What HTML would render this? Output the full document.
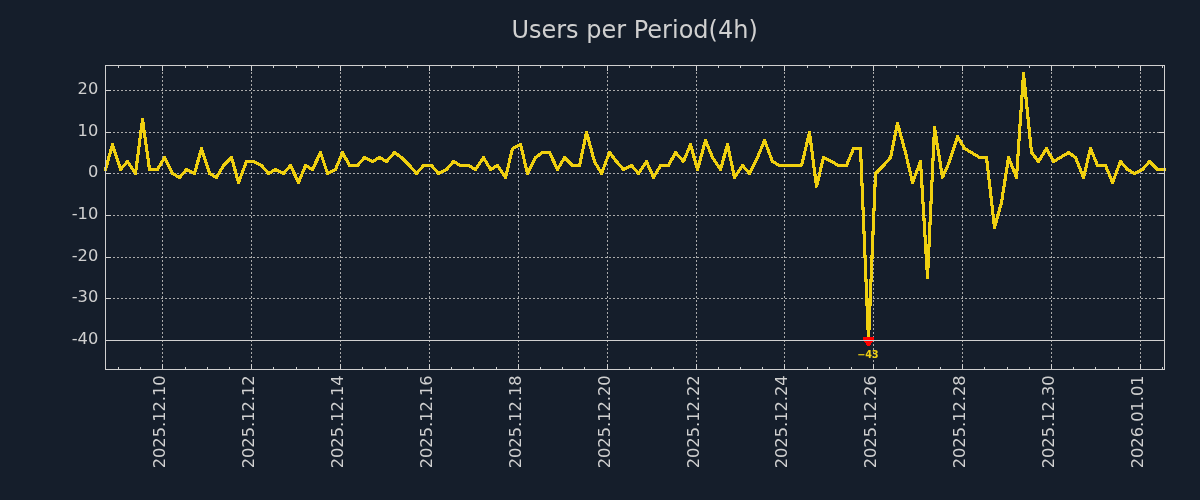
<!DOCTYPE html>
<html><head><meta charset="utf-8"><title>Users per Period(4h)</title>
<style>
html,body{margin:0;padding:0;background:#151e2b;}
body{width:1200px;height:500px;overflow:hidden;}
svg{display:block;}
text{font-family:"DejaVu Sans","Liberation Sans",sans-serif;fill:#d0d0d0;}
.tk{font-size:16.25px;}
.ttl{font-size:24px;}
.ann{font-size:9.8px;font-weight:bold;fill:#f0d010;}
</style></head><body>
<svg width="1200" height="500" viewBox="0 0 1200 500">
<defs><filter id="thr" x="0" y="0" width="1200" height="500" filterUnits="userSpaceOnUse" color-interpolation-filters="sRGB"><feComponentTransfer><feFuncA type="discrete" tableValues="0 0 0 1 1 1 1"/></feComponentTransfer></filter></defs>
<rect x="0" y="0" width="1200" height="500" fill="#151e2b"/>
<text class="ttl" x="634.6" y="37.5" text-anchor="middle">Users per Period(4h)</text>
<g stroke="#aaaaaa" stroke-width="1" stroke-dasharray="2 2" fill="none">
<line x1="162.5" y1="370" x2="162.5" y2="65"/>
<line x1="251.5" y1="370" x2="251.5" y2="65"/>
<line x1="340.5" y1="370" x2="340.5" y2="65"/>
<line x1="429.5" y1="370" x2="429.5" y2="65"/>
<line x1="518.5" y1="370" x2="518.5" y2="65"/>
<line x1="607.5" y1="370" x2="607.5" y2="65"/>
<line x1="696.5" y1="370" x2="696.5" y2="65"/>
<line x1="784.5" y1="370" x2="784.5" y2="65"/>
<line x1="873.5" y1="370" x2="873.5" y2="65"/>
<line x1="962.5" y1="370" x2="962.5" y2="65"/>
<line x1="1051.5" y1="370" x2="1051.5" y2="65"/>
<line x1="1140.5" y1="370" x2="1140.5" y2="65"/>
<line x1="105" y1="90.5" x2="1165" y2="90.5"/>
<line x1="105" y1="132.5" x2="1165" y2="132.5"/>
<line x1="105" y1="173.5" x2="1165" y2="173.5"/>
<line x1="105" y1="215.5" x2="1165" y2="215.5"/>
<line x1="105" y1="257.5" x2="1165" y2="257.5"/>
<line x1="105" y1="298.5" x2="1165" y2="298.5"/>
</g>
<polyline points="105.5,169.5 112.5,144.5 120.5,169.5 127.5,161.5 135.5,173.5 142.5,119.5 149.5,169.5 157.5,169.5 164.5,157.5 172.5,173.5 179.5,177.5 186.5,169.5 194.5,173.5 201.5,148.5 209.5,173.5 216.5,177.5 223.5,165.5 231.5,157.5 238.5,182.5 246.5,161.5 253.5,161.5 261.5,165.5 268.5,173.5 275.5,169.5 283.5,173.5 290.5,165.5 298.5,182.5 305.5,165.5 312.5,169.5 320.5,152.5 327.5,173.5 335.5,169.5 342.5,152.5 349.5,165.5 357.5,165.5 364.5,157.5 372.5,161.5 379.5,157.5 386.5,161.5 394.5,152.5 401.5,157.5 409.5,165.5 416.5,173.5 423.5,165.5 431.5,165.5 438.5,173.5 446.5,169.5 453.5,161.5 460.5,165.5 468.5,165.5 475.5,169.5 483.5,157.5 490.5,169.5 497.5,165.5 505.5,177.5 512.5,148.5 520.5,144.5 527.5,173.5 535.5,157.5 542.5,152.5 549.5,152.5 557.5,169.5 564.5,157.5 572.5,165.5 579.5,165.5 586.5,132.5 594.5,161.5 601.5,173.5 609.5,152.5 616.5,161.5 623.5,169.5 631.5,165.5 638.5,173.5 646.5,161.5 653.5,177.5 660.5,165.5 668.5,165.5 675.5,152.5 683.5,161.5 690.5,144.5 697.5,169.5 705.5,140.5 712.5,157.5 720.5,169.5 727.5,144.5 734.5,177.5 742.5,165.5 749.5,173.5 757.5,157.5 764.5,140.5 772.5,161.5 779.5,165.5 786.5,165.5 794.5,165.5 801.5,165.5 809.5,132.5 816.5,186.5 823.5,157.5 831.5,161.5 838.5,165.5 846.5,165.5 853.5,148.5 860.5,148.5 868.5,340.5 875.5,173.5 883.5,165.5 890.5,157.5 897.5,123.5 905.5,152.5 912.5,182.5 920.5,161.5 927.5,277.5 934.5,127.5 942.5,177.5 949.5,161.5 957.5,136.5 964.5,148.5 971.5,152.5 979.5,157.5 986.5,157.5 994.5,227.5 1001.5,202.5 1008.5,157.5 1016.5,177.5 1023.5,73.5 1031.5,152.5 1038.5,161.5 1046.5,148.5 1053.5,161.5 1060.5,157.5 1068.5,152.5 1075.5,157.5 1083.5,177.5 1090.5,148.5 1097.5,165.5 1105.5,165.5 1112.5,182.5 1120.5,161.5 1127.5,169.5 1134.5,173.5 1142.5,169.5 1149.5,161.5 1157.5,169.5 1164.5,169.5" fill="none" stroke="#f0d010" stroke-width="3" stroke-linejoin="round" stroke-linecap="square" filter="url(#thr)"/>
<path d="M863 337H874V341H873V342H872V343H871V345H870V346H867V345H866V343H865V342H864V341H863Z" fill="#ff0000" shape-rendering="crispEdges"/>
<line x1="105" y1="340.5" x2="1165" y2="340.5" stroke="#d0d0d0" stroke-width="1"/>
<text class="ann" x="867.70" y="357.8" text-anchor="middle" letter-spacing="-0.3">−43</text>
<g stroke="#d0d0d0" stroke-width="1" fill="none">
<line x1="162.5" y1="369" x2="162.5" y2="364"/><line x1="162.5" y1="66" x2="162.5" y2="71"/>
<line x1="251.5" y1="369" x2="251.5" y2="364"/><line x1="251.5" y1="66" x2="251.5" y2="71"/>
<line x1="340.5" y1="369" x2="340.5" y2="364"/><line x1="340.5" y1="66" x2="340.5" y2="71"/>
<line x1="429.5" y1="369" x2="429.5" y2="364"/><line x1="429.5" y1="66" x2="429.5" y2="71"/>
<line x1="518.5" y1="369" x2="518.5" y2="364"/><line x1="518.5" y1="66" x2="518.5" y2="71"/>
<line x1="607.5" y1="369" x2="607.5" y2="364"/><line x1="607.5" y1="66" x2="607.5" y2="71"/>
<line x1="696.5" y1="369" x2="696.5" y2="364"/><line x1="696.5" y1="66" x2="696.5" y2="71"/>
<line x1="784.5" y1="369" x2="784.5" y2="364"/><line x1="784.5" y1="66" x2="784.5" y2="71"/>
<line x1="873.5" y1="369" x2="873.5" y2="364"/><line x1="873.5" y1="66" x2="873.5" y2="71"/>
<line x1="962.5" y1="369" x2="962.5" y2="364"/><line x1="962.5" y1="66" x2="962.5" y2="71"/>
<line x1="1051.5" y1="369" x2="1051.5" y2="364"/><line x1="1051.5" y1="66" x2="1051.5" y2="71"/>
<line x1="1140.5" y1="369" x2="1140.5" y2="364"/><line x1="1140.5" y1="66" x2="1140.5" y2="71"/>
<line x1="118.5" y1="369" x2="118.5" y2="367"/><line x1="118.5" y1="66" x2="118.5" y2="68"/>
<line x1="140.5" y1="369" x2="140.5" y2="367"/><line x1="140.5" y1="66" x2="140.5" y2="68"/>
<line x1="185.5" y1="369" x2="185.5" y2="367"/><line x1="185.5" y1="66" x2="185.5" y2="68"/>
<line x1="207.5" y1="369" x2="207.5" y2="367"/><line x1="207.5" y1="66" x2="207.5" y2="68"/>
<line x1="229.5" y1="369" x2="229.5" y2="367"/><line x1="229.5" y1="66" x2="229.5" y2="68"/>
<line x1="273.5" y1="369" x2="273.5" y2="367"/><line x1="273.5" y1="66" x2="273.5" y2="68"/>
<line x1="296.5" y1="369" x2="296.5" y2="367"/><line x1="296.5" y1="66" x2="296.5" y2="68"/>
<line x1="318.5" y1="369" x2="318.5" y2="367"/><line x1="318.5" y1="66" x2="318.5" y2="68"/>
<line x1="362.5" y1="369" x2="362.5" y2="367"/><line x1="362.5" y1="66" x2="362.5" y2="68"/>
<line x1="385.5" y1="369" x2="385.5" y2="367"/><line x1="385.5" y1="66" x2="385.5" y2="68"/>
<line x1="407.5" y1="369" x2="407.5" y2="367"/><line x1="407.5" y1="66" x2="407.5" y2="68"/>
<line x1="451.5" y1="369" x2="451.5" y2="367"/><line x1="451.5" y1="66" x2="451.5" y2="68"/>
<line x1="473.5" y1="369" x2="473.5" y2="367"/><line x1="473.5" y1="66" x2="473.5" y2="68"/>
<line x1="496.5" y1="369" x2="496.5" y2="367"/><line x1="496.5" y1="66" x2="496.5" y2="68"/>
<line x1="540.5" y1="369" x2="540.5" y2="367"/><line x1="540.5" y1="66" x2="540.5" y2="68"/>
<line x1="562.5" y1="369" x2="562.5" y2="367"/><line x1="562.5" y1="66" x2="562.5" y2="68"/>
<line x1="584.5" y1="369" x2="584.5" y2="367"/><line x1="584.5" y1="66" x2="584.5" y2="68"/>
<line x1="629.5" y1="369" x2="629.5" y2="367"/><line x1="629.5" y1="66" x2="629.5" y2="68"/>
<line x1="651.5" y1="369" x2="651.5" y2="367"/><line x1="651.5" y1="66" x2="651.5" y2="68"/>
<line x1="673.5" y1="369" x2="673.5" y2="367"/><line x1="673.5" y1="66" x2="673.5" y2="68"/>
<line x1="718.5" y1="369" x2="718.5" y2="367"/><line x1="718.5" y1="66" x2="718.5" y2="68"/>
<line x1="740.5" y1="369" x2="740.5" y2="367"/><line x1="740.5" y1="66" x2="740.5" y2="68"/>
<line x1="762.5" y1="369" x2="762.5" y2="367"/><line x1="762.5" y1="66" x2="762.5" y2="68"/>
<line x1="807.5" y1="369" x2="807.5" y2="367"/><line x1="807.5" y1="66" x2="807.5" y2="68"/>
<line x1="829.5" y1="369" x2="829.5" y2="367"/><line x1="829.5" y1="66" x2="829.5" y2="68"/>
<line x1="851.5" y1="369" x2="851.5" y2="367"/><line x1="851.5" y1="66" x2="851.5" y2="68"/>
<line x1="896.5" y1="369" x2="896.5" y2="367"/><line x1="896.5" y1="66" x2="896.5" y2="68"/>
<line x1="918.5" y1="369" x2="918.5" y2="367"/><line x1="918.5" y1="66" x2="918.5" y2="68"/>
<line x1="940.5" y1="369" x2="940.5" y2="367"/><line x1="940.5" y1="66" x2="940.5" y2="68"/>
<line x1="984.5" y1="369" x2="984.5" y2="367"/><line x1="984.5" y1="66" x2="984.5" y2="68"/>
<line x1="1007.5" y1="369" x2="1007.5" y2="367"/><line x1="1007.5" y1="66" x2="1007.5" y2="68"/>
<line x1="1029.5" y1="369" x2="1029.5" y2="367"/><line x1="1029.5" y1="66" x2="1029.5" y2="68"/>
<line x1="1073.5" y1="369" x2="1073.5" y2="367"/><line x1="1073.5" y1="66" x2="1073.5" y2="68"/>
<line x1="1095.5" y1="369" x2="1095.5" y2="367"/><line x1="1095.5" y1="66" x2="1095.5" y2="68"/>
<line x1="1118.5" y1="369" x2="1118.5" y2="367"/><line x1="1118.5" y1="66" x2="1118.5" y2="68"/>
<line x1="1162.5" y1="369" x2="1162.5" y2="367"/><line x1="1162.5" y1="66" x2="1162.5" y2="68"/>
<line x1="106" y1="90.5" x2="111" y2="90.5"/><line x1="1164" y1="90.5" x2="1159" y2="90.5"/>
<line x1="106" y1="132.5" x2="111" y2="132.5"/><line x1="1164" y1="132.5" x2="1159" y2="132.5"/>
<line x1="106" y1="173.5" x2="111" y2="173.5"/><line x1="1164" y1="173.5" x2="1159" y2="173.5"/>
<line x1="106" y1="215.5" x2="111" y2="215.5"/><line x1="1164" y1="215.5" x2="1159" y2="215.5"/>
<line x1="106" y1="257.5" x2="111" y2="257.5"/><line x1="1164" y1="257.5" x2="1159" y2="257.5"/>
<line x1="106" y1="298.5" x2="111" y2="298.5"/><line x1="1164" y1="298.5" x2="1159" y2="298.5"/>
<line x1="106" y1="340.5" x2="111" y2="340.5"/><line x1="1164" y1="340.5" x2="1159" y2="340.5"/>
</g>
<rect x="105.5" y="65.5" width="1059.0" height="304.0" fill="none" stroke="#d0d0d0" stroke-width="1"/>
<text class="tk" x="98.3" y="94.0" text-anchor="end">20</text>
<text class="tk" x="98.3" y="136.0" text-anchor="end">10</text>
<text class="tk" x="98.3" y="177.0" text-anchor="end">0</text>
<text class="tk" x="98.3" y="219.0" text-anchor="end">-10</text>
<text class="tk" x="98.3" y="261.0" text-anchor="end">-20</text>
<text class="tk" x="98.3" y="302.0" text-anchor="end">-30</text>
<text class="tk" x="98.3" y="344.0" text-anchor="end">-40</text>
<text class="tk" transform="translate(165.20,375.3) rotate(-90)" text-anchor="end">2025.12.10</text>
<text class="tk" transform="translate(254.20,375.3) rotate(-90)" text-anchor="end">2025.12.12</text>
<text class="tk" transform="translate(343.20,375.3) rotate(-90)" text-anchor="end">2025.12.14</text>
<text class="tk" transform="translate(432.20,375.3) rotate(-90)" text-anchor="end">2025.12.16</text>
<text class="tk" transform="translate(521.20,375.3) rotate(-90)" text-anchor="end">2025.12.18</text>
<text class="tk" transform="translate(610.20,375.3) rotate(-90)" text-anchor="end">2025.12.20</text>
<text class="tk" transform="translate(699.20,375.3) rotate(-90)" text-anchor="end">2025.12.22</text>
<text class="tk" transform="translate(787.20,375.3) rotate(-90)" text-anchor="end">2025.12.24</text>
<text class="tk" transform="translate(876.20,375.3) rotate(-90)" text-anchor="end">2025.12.26</text>
<text class="tk" transform="translate(965.20,375.3) rotate(-90)" text-anchor="end">2025.12.28</text>
<text class="tk" transform="translate(1054.20,375.3) rotate(-90)" text-anchor="end">2025.12.30</text>
<text class="tk" transform="translate(1143.20,375.3) rotate(-90)" text-anchor="end">2026.01.01</text>
</svg></body></html>
